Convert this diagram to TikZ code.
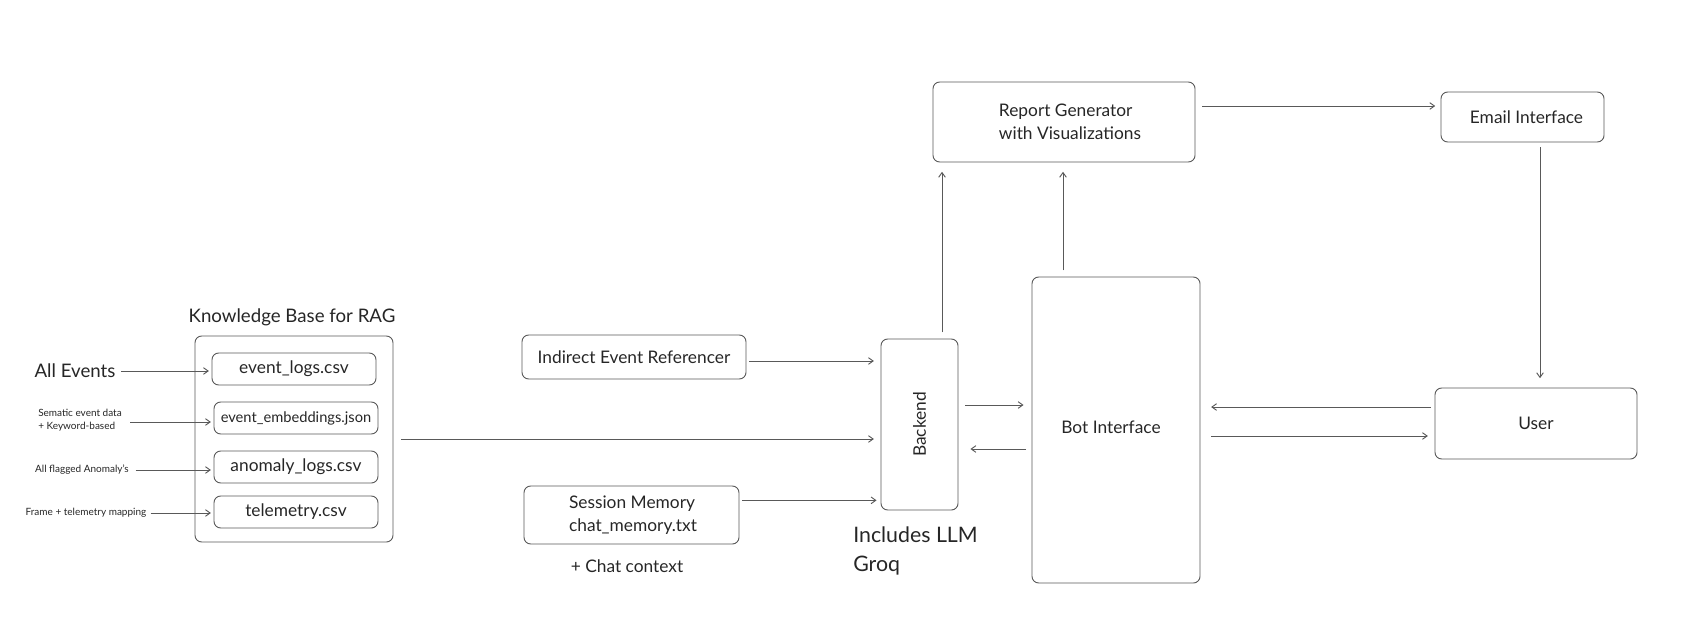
\documentclass[tikz,border=0pt]{standalone}
\usepackage{fontspec}
\setmainfont{Lato}
\usetikzlibrary{arrows.meta,fit,calc}
\begin{document}
\begin{tikzpicture}[x=0.75pt,y=-0.75pt,
  every node/.style={inner sep=0pt, text=black!85},
  box/.style={draw=black!65, line width=0.7pt, rounded corners=5pt, inner sep=0pt},
  arr/.style={draw=black!65, line width=0.7pt, -{Straight Barb[length=3.5pt,width=5pt]}},
  lbl/.style={font=\fontsize{13}{15}\selectfont},
  big/.style={font=\fontsize{14}{17}\selectfont},
  tiny/.style={font=\fontsize{7.5}{10}\selectfont}
]
\useasboundingbox (0,0) rectangle (1706,618);
% Knowledge base
\node[box, fit={(195,336)(393,542)}] (kb) {};
\node[big] (kbt) at (292,317) {Knowledge Base for RAG};
\node[box, fit={(212,353)(376,385)}] (ev) {};
\node[lbl] at (ev.center) {event\_logs.csv};
\node[box, fit={(214,402)(378,434)}] (emb) {};
\node[font=\fontsize{11}{14}\selectfont] at (emb.center) {event\_embeddings.json};
\node[box, fit={(214,451)(378,483)}] (an) {};
\node[lbl] at (an.center) {anomaly\_logs.csv};
\node[box, fit={(214,496)(378,528)}] (tel) {};
\node[lbl] at (tel.center) {telemetry.csv};
% left labels
\node[big] (l1) at (75,371) {All Events};
\node[tiny, align=left] (l2) at (80,420) {Sematic event data\\+ Keyword-based};
\node[tiny] (l3) at (82,470) {All flagged Anomaly's};
\node[tiny] (l4) at (86,513) {Frame + telemetry mapping};
\draw[arr, shorten <=4pt, shorten >=2pt] (l1.east) -- (l1.east -| ev.west);
\draw[arr, shorten >=2pt] ($(l2.east)+(8,2)$) -- ($(l2.east -| emb.west)+(0,2)$);
\draw[arr, shorten <=5pt, shorten >=2pt] (l3.east) -- (l3.east -| an.west);
\draw[arr, shorten <=3pt, shorten >=2pt] (l4.east) -- (l4.east -| tel.west);
% middle
\node[box, fit={(522,335)(746,379)}] (ind) {};
\node[lbl] at (ind.center) {Indirect Event Referencer};
\node[box, fit={(524,486)(739,544)}] (sm) {};
\node[lbl, align=left] (smt) at (633,515) {Session Memory\\[2pt]chat\_memory.txt};
\node[lbl] (cc) at (627,566) {+ Chat context};
\node[box, fit={(881,339)(958,510)}] (be) {};
\node[lbl, rotate=90] (bet) at (be.center) {Backend};
\node[font=\fontsize{16}{21.5}\selectfont, align=left, anchor=west] (llm) at (853,551) {Includes LLM\\Groq};
\draw[arr, shorten <=6pt, shorten >=5pt] (kb.east) -- (kb.east -| be.west);
\draw[arr, shorten <=2pt, shorten >=5pt] ([yshift=-3pt]ind.east) -- ([yshift=-3pt]ind.east -| be.west);
\draw[arr, shorten <=2pt, shorten >=3pt] ([yshift=11pt]sm.east) -- ([yshift=11pt]sm.east -| be.west);
% right part
\node[box, fit={(1032,277)(1200,583)}] (bot) {};
\node[lbl] (bott) at (1111,427) {Bot Interface};
\node[box, fit={(933,82)(1195,162)}] (rep) {};
\node[lbl, align=left] (rept) at (1070,122) {Report Generator\\[2pt]with Visualizations};
\node[box, fit={(1441,92)(1604,142)}] (em) {};
\node[lbl] at ([xshift=3pt]em.center) {Email Interface};
\node[box, fit={(1435,388)(1637,459)}] (usr) {};
\node[lbl] at (usr.center) {User};
\coordinate (beTop) at (942,339);
\coordinate (botTop) at (1063,277);
\draw[arr, shorten <=5pt, shorten >=7pt] (beTop) -- (beTop |- rep.south);
\draw[arr, shorten <=5pt, shorten >=7pt] (botTop) -- (botTop |- rep.south);
\draw[arr, shorten <=5pt, shorten >=4pt] ([yshift=12pt]rep.east) -- ([yshift=12pt]rep.east -| em.west);
\coordinate (emB) at (1540,142);
\draw[arr, shorten <=4pt, shorten >=7pt] (emB) -- (emB |- usr.north);
\coordinate (y1) at (0,405);
\coordinate (y2) at (0,449);
\draw[arr, shorten <=5pt, shorten >=6pt] (be.east |- y1) -- (bot.west |- y1);
\draw[arr, shorten <=4pt, shorten >=9pt] (bot.west |- y2) -- (be.east |- y2);
\coordinate (y3) at (0,407);
\coordinate (y4) at (0,436);
\draw[arr, shorten <=3pt, shorten >=8pt] (usr.west |- y3) -- (bot.east |- y3);
\draw[arr, shorten <=8pt, shorten >=5pt] (bot.east |- y4) -- (usr.west |- y4);
\end{tikzpicture}
\end{document}
